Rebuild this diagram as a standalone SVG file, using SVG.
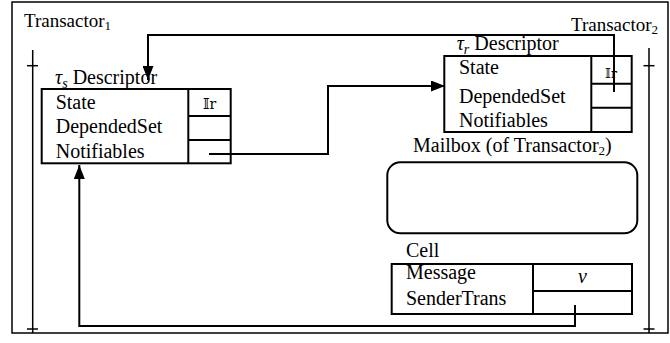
<svg xmlns="http://www.w3.org/2000/svg" width="670" height="343" viewBox="0 0 670 343">
<style>
text{font-family:"Liberation Serif","Times New Roman",serif;font-size:20px;fill:#000}
.lbl{font-size:19px}
.sub{font-size:14px}
.nsub{font-size:13px}
.box{fill:none;stroke:#000;stroke-width:2}
.life{fill:none;stroke:#000;stroke-width:1.5}
.conn{fill:none;stroke:#000;stroke-width:2}
.sym{font-family:"DejaVu Serif","DejaVu Sans","Liberation Serif",serif;font-size:14px}
.sym2{font-family:"DejaVu Serif","DejaVu Sans","Liberation Serif",serif;font-size:12.5px}
.math{font-style:italic}
</style>
<defs>
<marker id="arr" markerUnits="userSpaceOnUse" markerWidth="15" markerHeight="11" refX="14" refY="5.5" orient="auto">
<path d="M0,0 L14,5.5 L0,11 z" fill="#000"/>
</marker>
</defs>
<rect x="0" y="0" width="670" height="343" fill="#fff"/>
<g id="frame">
<rect x="12" y="2" width="656" height="331" fill="none" stroke="#000" stroke-width="1.5"/>
</g>
<g id="transactor1">
<text x="24" y="27" class="lbl">Transactor<tspan class="nsub" dy="3">1</tspan></text>
<line class="life" x1="32.7" y1="50" x2="32.7" y2="333"/>
<line class="life" x1="27" y1="65.7" x2="38" y2="65.7"/>
<line class="life" x1="27" y1="329" x2="38" y2="329"/>
</g>
<g id="transactor2">
<text x="571" y="31" class="lbl">Transactor<tspan class="nsub" dy="3">2</tspan></text>
<line class="life" x1="649" y1="48" x2="649" y2="333"/>
<line class="life" x1="643.5" y1="65.7" x2="654.5" y2="65.7"/>
<line class="life" x1="643.5" y1="329" x2="654.5" y2="329"/>
</g>
<g id="ts-descriptor">
<text x="55" y="84"><tspan class="math">τ</tspan><tspan class="sub math" dy="4">s</tspan><tspan dy="-4"> Descriptor</tspan></text>
<rect class="box" x="41.7" y="89" width="189" height="74.3"/>
<line class="box" x1="188.3" y1="89" x2="188.3" y2="163.3"/>
<line class="box" x1="188.3" y1="116" x2="230.7" y2="116"/>
<line class="box" x1="188.3" y1="140" x2="230.7" y2="140"/>
<text x="55.7" y="109">State</text>
<text x="55.7" y="133.3">DependedSet</text>
<text x="55.7" y="158">Notifiables</text>
<text x="209.5" y="109" class="sym" text-anchor="middle">𝕀r</text>
</g>
<g id="tr-descriptor">
<text x="456.7" y="50"><tspan class="math">τ</tspan><tspan class="sub math" dy="4">r</tspan><tspan dy="-4"> Descriptor</tspan></text>
<rect class="box" x="444.3" y="56" width="187.4" height="76"/>
<line class="box" x1="591.3" y1="56" x2="591.3" y2="132"/>
<line class="box" x1="591.3" y1="83.7" x2="631.7" y2="83.7"/>
<line class="box" x1="591.3" y1="107.7" x2="631.7" y2="107.7"/>
<text x="459" y="74">State</text>
<text x="459" y="102.7">DependedSet</text>
<text x="459" y="126.5">Notifiables</text>
<text x="611" y="78" class="sym2" text-anchor="middle">𝕀r</text>
</g>
<g id="mailbox">
<text x="413" y="151.7">Mailbox (of Transactor<tspan class="nsub" dy="3">2</tspan><tspan dy="-3">)</tspan></text>
<rect class="box" x="387.3" y="162.3" width="250" height="71" rx="13" ry="13"/>
</g>
<g id="cell">
<text x="406" y="257">Cell</text>
<rect class="box" x="391.7" y="264" width="240.3" height="50"/>
<line class="box" x1="533" y1="264" x2="533" y2="314"/>
<line class="box" x1="533" y1="291" x2="632" y2="291"/>
<text x="406" y="279">Message</text>
<text x="406" y="305">SenderTrans</text>
<text x="582.5" y="283" class="math" text-anchor="middle">v</text>
</g>
<g id="connectors">
<polyline class="conn" points="614,92 614,35 148,35 148,80" marker-end="url(#arr)"/>
<polyline class="conn" points="209,154 328,154 328,86 445,86" marker-end="url(#arr)"/>
<polyline class="conn" points="575,305 575,326 79.3,326 79.3,165" marker-end="url(#arr)"/>
</g>
</svg>
